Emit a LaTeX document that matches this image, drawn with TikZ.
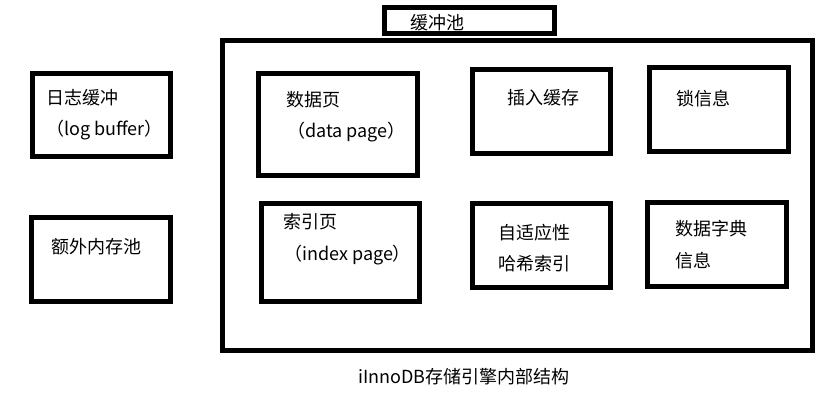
\documentclass[tikz,border=0pt]{standalone}
\usepackage{fontspec}
\setmainfont{Noto Sans CJK SC}
\usepackage{tikz}

\begin{document}
\begin{tikzpicture}[x=1pt, y=-1pt,
    box/.style={draw, rectangle, line width=5pt, inner sep=0pt},
    txt/.style={anchor=west, inner sep=0pt, font=\fontsize{18pt}{22pt}\selectfont}]
    \useasboundingbox[fill=white] (0,0) rectangle (831,403);

    % left side
    \node[box, minimum width=138pt, minimum height=83pt] (logbuf) at (101.5,115) {};
    \node[box, minimum width=139pt, minimum height=84pt] (extrapool) at (101,259.5) {};
    \node[txt] (logbufcn) at (46,98) {日志缓冲};
    \node[txt] (logbufen) at (46,130) {（log buffer）};
    \node[txt] (extrapoolcn) at (51,247) {额外内存池};

    % buffer pool
    \node[box, minimum width=590pt, minimum height=310pt] (pool) at (517.5,195.5) {};
    \node[box, minimum width=170pt, minimum height=26pt] (poolname) at (469.5,20.5) {};
    \node[txt] (poolcn) at (410,23) {缓冲池};

    \node[box, minimum width=159pt, minimum height=102pt] (datapage) at (338,124.5) {};
    \node[box, minimum width=138pt, minimum height=84pt] (insertbuf) at (541.5,111.5) {};
    \node[box, minimum width=139pt, minimum height=84pt] (lockinfo) at (719,109.5) {};
    \node[box, minimum width=158pt, minimum height=98pt] (indexpage) at (340.5,252.5) {};
    \node[box, minimum width=138pt, minimum height=84pt] (hashidx) at (541.5,245.5) {};
    \node[box, minimum width=139pt, minimum height=84pt] (dictinfo) at (717,244.5) {};

    \node[txt] (datapagecn) at (286,100) {数据页};
    \node[txt] (datapageen) at (287,132) {（data page）};
    \node[txt] (insertbufcn) at (507,98) {插入缓存};
    \node[txt] (lockinfocn) at (676,99) {锁信息};
    \node[txt] (indexpagecn) at (283,222) {索引页};
    \node[txt] (indexpageen) at (284,255) {（index page）};
    \node[txt] (hashidxa) at (498,233) {自适应性};
    \node[txt] (hashidxb) at (498,264) {哈希索引};
    \node[txt] (dictinfoa) at (675,229) {数据字典};
    \node[txt] (dictinfob) at (675,261) {信息};

    % caption
    \node[txt] (caption) at (358,377) {iInnoDB存储引擎内部结构};
\end{tikzpicture}
\end{document}
